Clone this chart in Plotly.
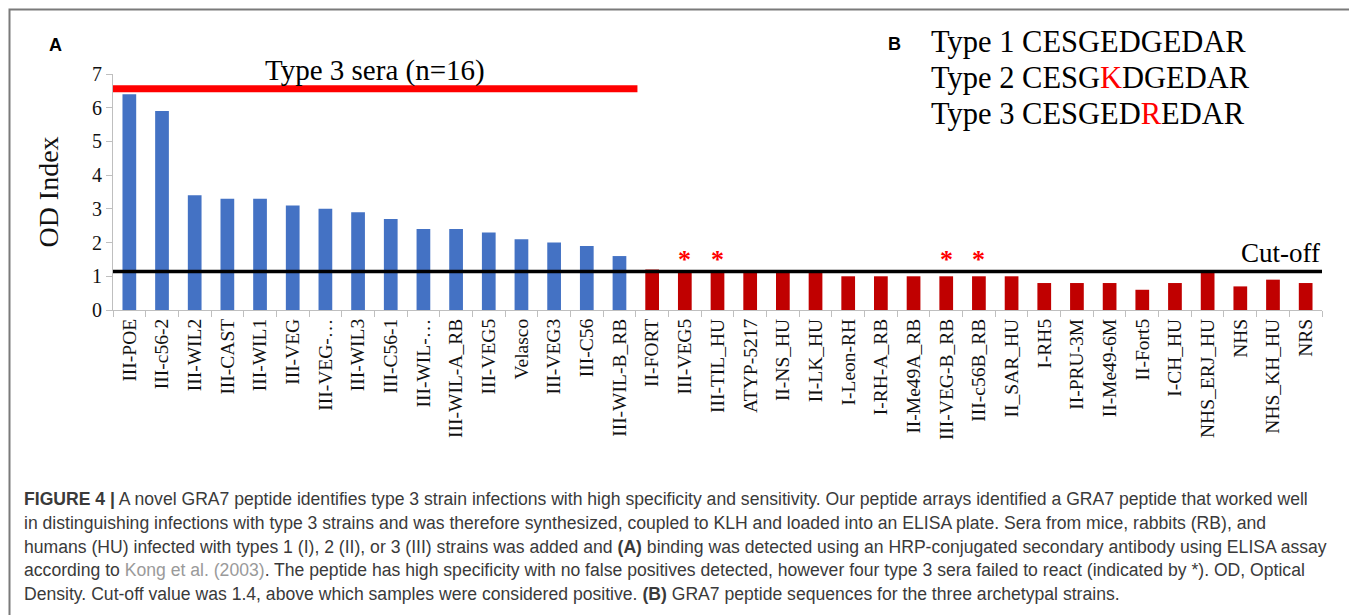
import plotly.graph_objects as go

# ---------------- data ----------------
strains = ["III-POE", "III-c56-2", "III-WIL2", "III-CAST", "III-WIL1", "III-VEG", "III-VEG-…",
           "III-WIL3", "III-C56-1", "III-WIL-…", "III-WIL-A_RB", "III-VEG5", "Velasco", "III-VEG3",
           "III-C56", "III-WIL-B_RB",
           "II-FORT", "III-VEG5", "III-TIL_HU", "ATYP-5217", "II-NS_HU", "II-LK_HU", "I-Leon-RH",
           "I-RH-A_RB", "II-Me49A_RB", "III-VEG-B_RB", "III-c56B_RB", "II_SAR_HU", "I-RH5",
           "II-PRU-3M", "II-Me49-6M", "II-Fort5", "I-CH_HU", "NHS_ERJ_HU", "NHS", "NHS_KH_HU", "NRS"]
od_index = [6.4, 5.9, 3.4, 3.3, 3.3, 3.1, 3.0, 2.9, 2.7, 2.4, 2.4, 2.3, 2.1, 2.0, 1.9, 1.6,
            1.2, 1.1, 1.1, 1.1, 1.1, 1.1, 1.0, 1.0, 1.0, 1.0, 1.0, 1.0, 0.8, 0.8, 0.8, 0.6, 0.8,
            1.1, 0.7, 0.9, 0.8]
n_type3_positive = 16           # first 16 bars = detected type 3 sera (blue)
failed_type3 = [17, 18, 25, 26]  # indices marked with *
cutoff = 1.14
type3_bar_level = 6.56
y_ticks = [0, 1, 2, 3, 4, 5, 6, 7]

seq_lines = [
    ("Type 1 CESGEDGEDAR", None),
    ("Type 2 CESGKDGEDAR", 11),
    ("Type 3 CESGEDREDAR", 13),
]

caption_lines = [
    "<b>FIGURE 4 |</b> A novel GRA7 peptide identifies type 3 strain infections with high specificity and sensitivity. Our peptide arrays identified a GRA7 peptide that worked well",
    "in distinguishing infections with type 3 strains and was therefore synthesized, coupled to KLH and loaded into an ELISA plate. Sera from mice, rabbits (RB), and",
    "humans (HU) infected with types 1 (I), 2 (II), or 3 (III) strains was added and <b>(A)</b> binding was detected using an HRP-conjugated secondary antibody using ELISA assay",
    "according to <span style='color:#9a9a9a'>Kong et al. (2003)</span>. The peptide has high specificity with no false positives detected, however four type 3 sera failed to react (indicated by *). OD, Optical",
    "Density. Cut-off value was 1.4, above which samples were considered positive. <b>(B)</b> GRA7 peptide sequences for the three archetypal strains.",
]

# ---------------- figure ----------------
# the page body has an 8px default margin: draw a figure 8px smaller and offset coordinates
OFF = 8
W, H = 1357 - OFF, 615 - OFF
BLUE, RED = "#4472C4", "#C00000"
SERIF = "Liberation Serif, Times New Roman, serif"
SANS = "Liberation Sans, Arial, sans-serif"

xs = list(range(len(strains)))
colors = [BLUE if i < n_type3_positive else RED for i in xs]

fig = go.Figure()
fig.add_trace(go.Bar(x=xs, y=od_index, marker=dict(color=colors, line=dict(width=0)),
                     width=0.42, showlegend=False))

# invisible trace on second x axis to host category boundary ticks
fig.add_trace(go.Scatter(x=[-0.5, len(strains) - 0.5], y=[0, 0], xaxis="x2", mode="markers",
                         marker=dict(opacity=0), showlegend=False, hoverinfo="skip"))

px2x = lambda p: (p - OFF) / W
py2y = lambda p: 1 - (p - OFF) / H

x_dom = [px2x(113), px2x(1322)]
y_dom = [py2y(310), py2y(74)]

fig.update_layout(
    width=W, height=H,
    margin=dict(l=0, r=0, t=0, b=0, autoexpand=False),
    paper_bgcolor="white", plot_bgcolor="white",
    bargap=0.58,
    xaxis=dict(domain=x_dom, range=[-0.5, len(strains) - 0.5],
               tickmode="array", tickvals=xs, ticktext=strains, tickangle=-90,
               ticks="", showgrid=False, zeroline=False,
               showline=True, linecolor="#BFBFBF", linewidth=1,
               tickfont=dict(family=SERIF, size=19.5, color="#111"),
               anchor="y", automargin=False),
    xaxis2=dict(domain=x_dom, range=[-0.5, len(strains) - 0.5], overlaying="x",
                tickmode="array", tickvals=[i - 0.5 for i in range(len(strains) + 1)],
                showticklabels=False, ticks="outside", ticklen=6, tickcolor="#BFBFBF",
                showgrid=False, zeroline=False, showline=False, anchor="y", side="bottom"),
    yaxis=dict(domain=y_dom, range=[0, 7], tickmode="array", tickvals=y_ticks,
               ticks="outside", ticklen=6, tickcolor="#BFBFBF", automargin=False,
               showgrid=False, zeroline=False, showline=True, linecolor="#BFBFBF", linewidth=1,
               tickfont=dict(family=SERIF, size=20, color="#111"),
               title=dict(text="OD Index", font=dict(family=SERIF, size=28, color="#111"),
                          standoff=25)),
)

# cut-off line and type 3 sera bar
fig.add_shape(type="line", xref="x", yref="y", x0=-0.5, x1=len(strains) - 0.5,
              y0=cutoff, y1=cutoff, line=dict(color="black", width=3.5))
fig.add_shape(type="line", xref="x", yref="y", x0=-0.5, x1=n_type3_positive - 0.45,
              y0=type3_bar_level, y1=type3_bar_level, line=dict(color="#FF0000", width=7))

annotations = []
annotations.append(dict(x=(n_type3_positive - 0.45 - 0.5) / 2, y=type3_bar_level, xref="x", yref="y",
                        text="Type 3 sera (n=16)", showarrow=False, yanchor="bottom", yshift=0,
                        font=dict(family=SERIF, size=29, color="black")))
annotations.append(dict(x=len(strains) - 0.5, y=cutoff, xref="x", yref="y", text="Cut-off",
                        showarrow=False, xanchor="right", yanchor="bottom", yshift=2,
                        font=dict(family=SERIF, size=27, color="black")))
for i in failed_type3:
    annotations.append(dict(x=i, y=cutoff, xref="x", yref="y", text="<b>*</b>", showarrow=False,
                            yanchor="bottom", yshift=-4,
                            font=dict(family=SERIF, size=26, color="#FF0000")))

# panel labels
annotations.append(dict(x=px2x(47), y=py2y(33), xref="paper", yref="paper", text="<b>A</b>",
                        showarrow=False, font=dict(family=SANS, size=18, color="black")))
annotations.append(dict(x=px2x(894), y=py2y(32), xref="paper", yref="paper", text="<b>B</b>",
                        showarrow=False, font=dict(family=SANS, size=18, color="black")))

# sequences
for k, (s, red_idx) in enumerate(seq_lines):
    if red_idx is not None:
        s = s[:red_idx] + "<span style='color:#FF0000'>" + s[red_idx] + "</span>" + s[red_idx + 1:]
    annotations.append(dict(x=px2x(929), y=py2y(42 + 36 * k), xref="paper", yref="paper", text=s,
                            showarrow=False, xanchor="left", yanchor="middle",
                            font=dict(family=SERIF, size=30.5, color="black")))

# caption
for k, line in enumerate(caption_lines):
    annotations.append(dict(x=px2x(22), y=py2y(499 + 23.8 * k), xref="paper", yref="paper", text=line,
                            showarrow=False, xanchor="left", yanchor="middle",
                            font=dict(family=SANS, size=17.6, color="#3a3a3a")))

fig.update_layout(annotations=annotations)

# figure frame
fig.add_shape(type="rect", xref="paper", yref="paper", x0=px2x(9.5), x1=px2x(1353),
              y0=-0.05, y1=py2y(9.5), line=dict(color="#7a7a7a", width=2), fillcolor="rgba(0,0,0,0)")

fig.write_html("out.html")
